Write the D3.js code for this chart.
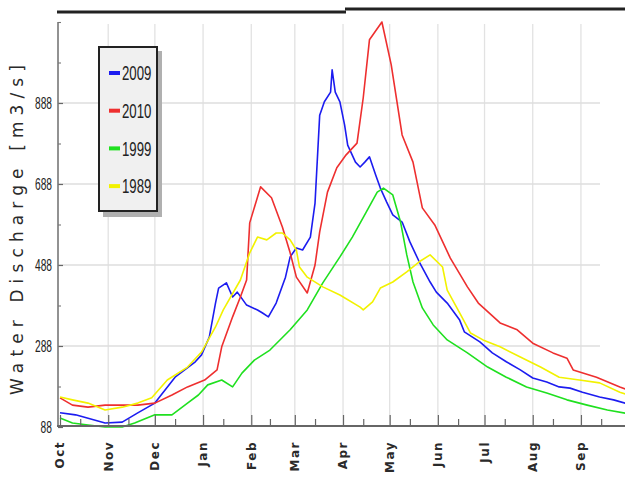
<!DOCTYPE html>
<html>
<head>
<meta charset="utf-8">
<script src="https://cdn.jsdelivr.net/npm/d3@7"></script>
<style>
  html, body { margin: 0; padding: 0; background: #fff; }
  svg { display: block; }
</style>
</head>
<body>
<svg id="chart" width="625" height="484"></svg>
<script>
// ---------- data ----------
const months = ["Oct","Nov","Dec","Jan","Feb","Mar","Apr","May","Jun","Jul","Aug","Sep"];
const monthStartDays = [0,31,61,92,123,151,182,212,243,273,304,335];
const minorTickDays = [13,44,74,105,135,164,195,225,256,286,317,348];
const yTickValues = [88,288,488,688,888];
const yTickLabels = ["88","288","488","688","888"];
const yMinorValues = [188,388,588,788,988,1088];
const yGridValues = [288,488,688,888];
const seriesNames = ["2009","2010","1999","1989"];
const seriesColors = ["#1c1cf0","#ee2f2f","#1fe01f","#f2f200"];

// [day of water year, discharge]
const s2009 = [[0,123],[10,118],[29,98],[40,100],[50,123],[61,147],[74,211],[87,249],[91,266],[96,310],[100,394],[102,431],[107,444],[111,409],[114,421],[120,389],[127,377],[130,370],[134,360],[139,394],[145,458],[148,508],[152,530],[156,525],[161,557],[164,641],[167,858],[170,891],[174,915],[175,970],[177,915],[180,891],[183,834],[185,784],[190,742],[193,730],[196,742],[199,755],[203,710],[206,678],[210,644],[214,612],[220,594],[225,545],[231,496],[238,446],[242,421],[249,394],[257,352],[260,323],[270,298],[278,271],[287,249],[296,229],[304,209],[313,199],[321,187],[328,184],[336,174],[347,162],[356,155],[365,145]];
const s2010 = [[0,160],[8,142],[18,137],[29,142],[40,142],[50,142],[61,147],[72,167],[82,187],[93,204],[101,229],[104,286],[111,360],[116,409],[120,451],[122,592],[129,681],[136,654],[143,582],[148,518],[152,458],[159,419],[164,488],[167,570],[172,668],[178,728],[184,760],[191,789],[195,901],[199,1044],[207,1088],[213,982],[220,809],[227,742],[233,629],[241,587],[251,505],[262,434],[269,394],[283,345],[294,328],[304,295],[317,271],[326,258],[330,229],[345,211],[360,187],[365,180]];
const s1999 = [[0,110],[8,98],[18,93],[29,88],[40,88],[48,98],[61,118],[72,118],[82,147],[89,167],[95,192],[104,204],[111,187],[117,221],[125,253],[135,278],[148,328],[159,377],[169,444],[180,508],[188,557],[197,619],[204,668],[208,678],[214,661],[219,594],[223,513],[227,446],[233,382],[240,340],[249,303],[262,271],[275,236],[287,211],[300,187],[313,172],[326,155],[339,142],[352,130],[365,121]];
const s1989 = [[0,162],[8,155],[18,147],[29,130],[40,137],[50,147],[59,160],[69,204],[82,236],[91,273],[100,335],[105,377],[116,451],[122,518],[127,557],[133,550],[139,567],[143,567],[148,550],[152,525],[154,483],[159,458],[169,434],[180,414],[193,384],[195,377],[201,397],[206,431],[214,446],[223,471],[231,496],[238,513],[246,483],[249,426],[257,370],[264,320],[272,303],[283,286],[296,261],[309,236],[321,211],[334,204],[347,197],[360,174],[365,168]];
const seriesData = [s2009, s2010, s1999, s1989];

// ---------- chart ----------
const svg = d3.select("#chart");
const x = d3.scaleLinear().domain([0, 365]).range([60, 627.6]);
const y = d3.scaleLinear().domain([88, 1088]).range([427, 22]);

// top decorative rule
svg.append("line").attr("x1", 57).attr("x2", 346).attr("y1", 12).attr("y2", 12)
  .attr("stroke", "#222").attr("stroke-width", 3);
svg.append("line").attr("x1", 345).attr("x2", 625).attr("y1", 9).attr("y2", 9)
  .attr("stroke", "#222").attr("stroke-width", 3);

// gridlines
const grid = svg.append("g");
grid.selectAll("line.v").data(monthStartDays.slice(1)).join("line")
  .attr("x1", d => x(d)).attr("x2", d => x(d))
  .attr("y1", 24).attr("y2", 426)
  .attr("stroke", "#e2e2e2").attr("stroke-width", 1.3);
grid.selectAll("line.h").data(yGridValues).join("line")
  .attr("x1", 58).attr("x2", 600)
  .attr("y1", d => y(d)).attr("y2", d => y(d))
  .attr("stroke", "#dedede").attr("stroke-width", 1.6);

// series lines
svg.append("clipPath").attr("id", "clip").append("rect")
  .attr("x", 58).attr("y", 15).attr("width", 567).attr("height", 413);
const line = d3.line().x(d => x(d[0])).y(d => y(d[1]));
const linesG = svg.append("g").attr("clip-path", "url(#clip)");
seriesData.forEach((s, i) => {
  linesG.append("path").datum(s)
    .attr("d", line)
    .attr("fill", "none")
    .attr("stroke", seriesColors[i])
    .attr("stroke-width", 1.6)
    .attr("stroke-linejoin", "round");
});

// y axis (inward ticks)
const yAxis = d3.axisLeft(y).tickValues(yTickValues)
  .tickFormat((d, i) => yTickLabels[i]).tickSize(-5).tickPadding(0);
const yA = svg.append("g").attr("transform", "translate(58,0)").call(yAxis);
yA.select(".domain").remove();
yA.selectAll(".tick line").attr("stroke", "#666").attr("stroke-width", 1.2);
yA.selectAll(".tick text").remove();
yA.selectAll(".tick").append("text")
  .attr("transform", "translate(-6,0) scale(0.62,1)")
  .attr("text-anchor", "end").attr("dy", "0.36em")
  .attr("fill", "#222")
  .style("font-family", "'Liberation Sans', Arial, sans-serif")
  .style("font-size", "16.5px")
  .text((d, i) => yTickLabels[i]);
const yMinor = d3.axisLeft(y).tickValues(yMinorValues).tickFormat("").tickSize(-3);
const yM = svg.append("g").attr("transform", "translate(58,0)").call(yMinor);
yM.select(".domain").remove();
yM.selectAll(".tick line").attr("stroke", "#777").attr("stroke-width", 1.1);
svg.append("line").attr("x1", 58).attr("x2", 58).attr("y1", 22).attr("y2", 427)
  .attr("stroke", "#777").attr("stroke-width", 1.6);

// x axis (inward ticks)
const xAxis = d3.axisBottom(x).tickValues(monthStartDays).tickFormat("").tickSize(-11);
const xA = svg.append("g").attr("transform", "translate(0,426)").call(xAxis);
xA.select(".domain").remove();
xA.selectAll(".tick line").attr("stroke", "#666").attr("stroke-width", 1.2);
const xMinor = d3.axisBottom(x).tickValues(minorTickDays).tickFormat("").tickSize(-7);
const xM = svg.append("g").attr("transform", "translate(0,426)").call(xMinor);
xM.select(".domain").remove();
xM.selectAll(".tick line").attr("stroke", "#666").attr("stroke-width", 1.2);
svg.append("line").attr("x1", 57).attr("x2", 625).attr("y1", 426).attr("y2", 426)
  .attr("stroke", "#666").attr("stroke-width", 1.8);

// month labels
svg.append("g").selectAll("text").data(monthStartDays).join("text")
  .attr("transform", d => `translate(${x(d)},441) rotate(-90)`)
  .attr("text-anchor", "end").attr("dy", "0.36em")
  .attr("fill", "#2a2a2a")
  .style("font-family", "'DejaVu Sans', Verdana, sans-serif")
  .style("font-size", "12px").style("font-weight", "bold")
  .style("letter-spacing", "1.5px")
  .text((d, i) => months[i]);

// y axis title
svg.append("text")
  .attr("transform", "translate(17,230) rotate(-90)")
  .attr("text-anchor", "middle").attr("dy", "0.36em")
  .attr("fill", "#2a2a2a")
  .attr("textLength", 330).attr("lengthAdjust", "spacing")
  .style("font-family", "'DejaVu Sans', Verdana, sans-serif")
  .style("font-size", "17px")
  .text("Water Discharge [m3/s]");

// legend
const lg = svg.append("g");
lg.append("rect").attr("x", 103).attr("y", 51).attr("width", 59).attr("height", 166)
  .attr("fill", "#b0b0b0");
lg.append("rect").attr("x", 99).attr("y", 47).attr("width", 58).attr("height", 164)
  .attr("fill", "#f0f0f0").attr("stroke", "#222").attr("stroke-width", 2);
seriesNames.forEach((n, i) => {
  const cy = 73 + i * 37.7;
  lg.append("rect").attr("x", 109).attr("y", cy - 2).attr("width", 11).attr("height", 4)
    .attr("fill", seriesColors[i]);
  lg.append("text")
    .attr("transform", `translate(122,${cy}) scale(0.66,1)`)
    .attr("dy", "0.36em").attr("fill", "#222")
    .style("font-family", "'Liberation Sans', Arial, sans-serif")
    .style("font-size", "20px")
    .text(n);
});
</script>
</body>
</html>
